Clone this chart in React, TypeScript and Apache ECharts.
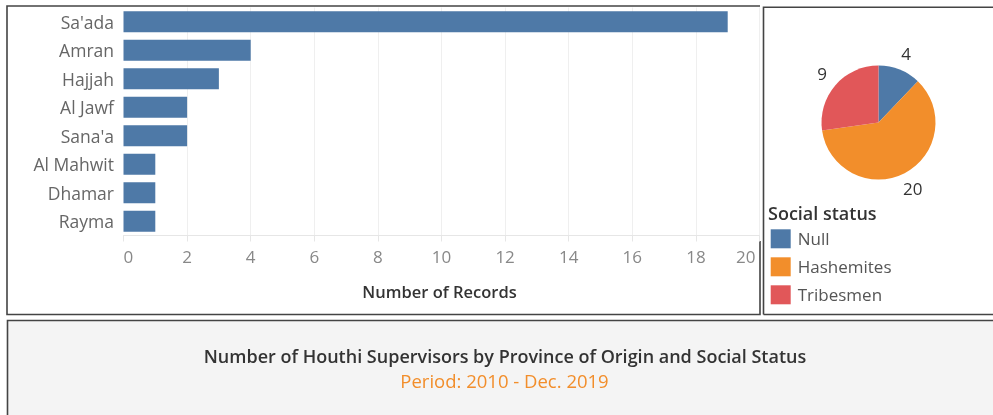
import React, { useEffect, useRef } from "react";
import * as echarts from "echarts";

const provinces = ["Sa'ada", "Amran", "Hajjah", "Al Jawf", "Sana'a", "Al Mahwit", "Dhamar", "Rayma"];
const provinceCounts = [19, 4, 3, 2, 2, 1, 1, 1];
const statusNames = ["Null", "Hashemites", "Tribesmen"];
const statusCounts = [4, 20, 9];
const statusColors = ["#4e79a7", "#f28e2b", "#e15759"];
const xTicks = [0, 20, 2];

const FONT = "'Open Sans', sans-serif";

export default function App() {
  const ref = useRef<HTMLDivElement>(null);
  useEffect(() => {
    document.body.style.margin = "0";
    const chart = echarts.init(ref.current!, null, { renderer: "svg" });
    const pieData = statusNames.map((n, i) => ({ name: n, value: statusCounts[i], itemStyle: { color: statusColors[i] } }));
    chart.setOption({
      animation: false,
      textStyle: { fontFamily: FONT },
      graphic: [
        { type: "rect", shape: { x: 7, y: 320, width: 990, height: 100 }, style: { fill: "#f4f4f4" }, z: -10 },
        { type: "polyline", shape: { points: [[760, 241], [760, 314.5], [7, 314.5], [7, 6], [760, 6]] }, style: { stroke: "#444", lineWidth: 1.6, fill: null } },
        { type: "polyline", shape: { points: [[763.5, 314.5], [763.5, 7.3], [993, 7.3]] }, style: { stroke: "#444", lineWidth: 1.6, fill: null } },
        { type: "polyline", shape: { points: [[763.5, 314.5], [993, 314.5]] }, style: { stroke: "#444", lineWidth: 1.6, fill: null } },
        { type: "polyline", shape: { points: [[7.5, 415], [7.5, 320.5], [993, 320.5]] }, style: { stroke: "#444", lineWidth: 1.6, fill: null } },
      ],
      title: [
        {
          text: "Number of Houthi Supervisors by Province of Origin and Social Status",
          left: 500, top: 342, textAlign: "center",
          textStyle: { fontSize: 18, fontWeight: 600, color: "#333", fontFamily: FONT },
        },
        {
          text: "Period: 2010 - Dec. 2019",
          left: 499.5, top: 366, textAlign: "center",
          textStyle: { fontSize: 18.5, fontWeight: 400, color: "#f28e2b", fontFamily: FONT },
        },
        {
          text: "Social status",
          left: 763, top: 199,
          textStyle: { fontSize: 18, fontWeight: 600, color: "#333", fontFamily: FONT },
        },
      ],
      legend: {
        orient: "vertical",
        left: 770.7, top: 229.3,
        padding: 0,
        itemWidth: 20, itemHeight: 19, itemGap: 9,
        icon: "rect",
        data: statusNames,
        textStyle: { fontSize: 17, color: "#555", fontFamily: FONT, padding: [0, 0, 0, 2] },
      },
      grid: { left: 123.5, right: 233.5, top: 7.5, bottom: 179.5, containLabel: false },
      xAxis: {
        type: "value",
        min: xTicks[0], max: xTicks[1], interval: xTicks[2],
        name: "Number of Records",
        nameLocation: "middle",
        nameGap: 47,
        nameTextStyle: { fontSize: 16.5, fontWeight: 600, color: "#333", fontFamily: FONT, padding: [0, 4, 0, 0] },
        axisLine: { show: true, lineStyle: { color: "#e6e6e6", width: 1 } },
        axisTick: { show: true, length: 6, lineStyle: { color: "#e6e6e6" } },
        axisLabel: {
          fontSize: 17, color: "#888", margin: 12, alignMinLabel: "left", alignMaxLabel: "right", fontFamily: FONT,
          formatter: (v: number) => (v === xTicks[1] ? `{m|${v}}` : `${v}`),
          rich: { m: { fontSize: 17, color: "#888", fontFamily: FONT, padding: [0, 4, 0, 0] } },
        },
        splitLine: { show: true, showMinLine: false, lineStyle: { color: "#efefef", width: 1 } },
      },
      yAxis: {
        type: "category",
        inverse: true,
        data: provinces,
        axisLine: { show: false },
        axisTick: { show: false },
        axisLabel: { fontSize: 17.5, color: "#666", margin: 9.5, fontFamily: FONT },
      },
      series: [
        {
          type: "bar",
          data: provinceCounts,
          barCategoryGap: "27%",
          itemStyle: { color: "#4e79a7" },
        },
        {
          type: "pie",
          center: [878.5, 122.5],
          radius: 57,
          startAngle: 90,
          clockwise: true,
          data: pieData,
          label: { show: false },
          labelLine: { show: false },
        },
        {
          type: "pie",
          center: [878.5, 122.5],
          radius: [57, 86],
          startAngle: 90,
          clockwise: true,
          silent: true,
          data: statusNames.map((n, i) => ({ name: n, value: statusCounts[i] })),
          itemStyle: { color: "rgba(0,0,0,0)" },
          label: {
            show: true, position: "inside", formatter: "{c}",
            fontSize: 17, color: "#333", fontFamily: FONT,
          },
          labelLine: { show: false },
        },
      ],
    });
    return () => chart.dispose();
  }, []);
  return <div ref={ref} style={{ position: "fixed", left: 0, top: 0, width: 993, height: 415 }} />;
}
